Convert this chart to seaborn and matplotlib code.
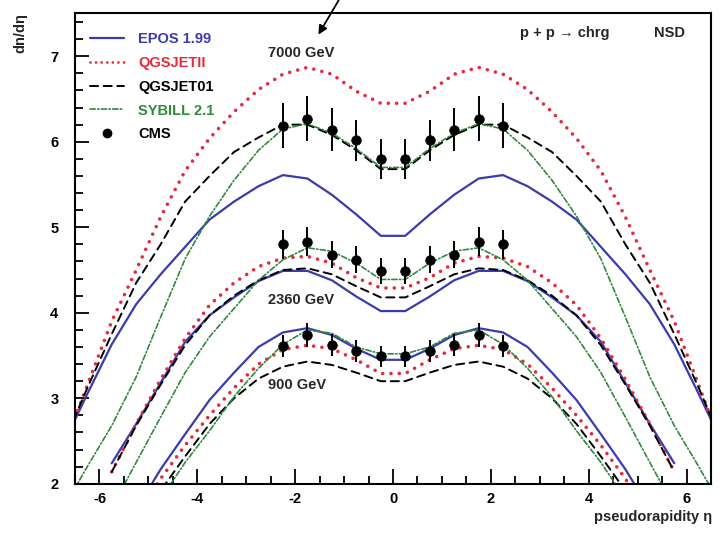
import numpy as np
import pandas as pd
import matplotlib
matplotlib.use("Agg")
import matplotlib.pyplot as plt
from matplotlib.lines import Line2D
from matplotlib.ticker import MultipleLocator
import seaborn as sns

nan = np.nan

# pseudorapidity grid of the model curves (bin centres)
eta = [-6.75, -6.25, -5.75, -5.25, -4.75, -4.25, -3.75, -3.25, -2.75, -2.25, -1.75, -1.25, -0.75, -0.25,
       0.25, 0.75, 1.25, 1.75, 2.25, 2.75, 3.25, 3.75, 4.25, 4.75, 5.25, 5.75, 6.25, 6.75]

# model predictions, 7000 GeV
epos_7000 = [2.45, 3.05, 3.63, 4.10, 4.45, 4.77, 5.09, 5.30, 5.48, 5.61, 5.57, 5.38, 5.15, 4.90,
             4.90, 5.15, 5.38, 5.57, 5.61, 5.48, 5.30, 5.09, 4.77, 4.45, 4.10, 3.63, 3.05, 2.45]
qgsjetii_7000 = [2.40, 3.15, 3.90, 4.50, 5.12, 5.66, 6.04, 6.35, 6.61, 6.79, 6.87, 6.79, 6.59, 6.45,
                 6.45, 6.59, 6.79, 6.87, 6.79, 6.61, 6.35, 6.04, 5.66, 5.12, 4.50, 3.90, 3.15, 2.40]
qgsjet01_7000 = [2.45, 3.12, 3.75, 4.35, 4.80, 5.30, 5.60, 5.88, 6.05, 6.20, 6.20, 6.08, 5.90, 5.68,
                 5.68, 5.90, 6.08, 6.20, 6.20, 6.05, 5.88, 5.60, 5.30, 4.80, 4.35, 3.75, 3.12, 2.45]
sybill_7000 = [1.70, 2.20, 2.68, 3.25, 3.95, 4.63, 5.13, 5.55, 5.90, 6.15, 6.21, 6.10, 5.92, 5.70,
               5.70, 5.92, 6.10, 6.21, 6.15, 5.90, 5.55, 5.13, 4.63, 3.95, 3.25, 2.68, 2.20, 1.70]

# model predictions, 2360 GeV
epos_2360 = [nan, nan, 2.24, 2.70, 3.18, 3.66, 3.97, 4.18, 4.37, 4.49, 4.49, 4.38, 4.19, 4.02,
             4.02, 4.19, 4.38, 4.49, 4.49, 4.37, 4.18, 3.97, 3.66, 3.18, 2.70, 2.24, nan, nan]
qgsjetii_2360 = [nan, nan, 2.14, 2.70, 3.22, 3.70, 4.09, 4.35, 4.54, 4.64, 4.66, 4.58, 4.41, 4.29,
                 4.29, 4.41, 4.58, 4.66, 4.64, 4.54, 4.35, 4.09, 3.70, 3.22, 2.70, 2.14, nan, nan]
qgsjet01_2360 = [nan, nan, 2.14, 2.68, 3.16, 3.62, 3.97, 4.20, 4.38, 4.50, 4.52, 4.45, 4.31, 4.18,
                 4.18, 4.31, 4.45, 4.52, 4.50, 4.38, 4.20, 3.97, 3.62, 3.16, 2.68, 2.14, nan, nan]
sybill_2360 = [nan, 1.20, 1.72, 2.25, 2.78, 3.30, 3.72, 4.05, 4.38, 4.62, 4.76, 4.72, 4.58, 4.39,
               4.39, 4.58, 4.72, 4.76, 4.62, 4.38, 4.05, 3.72, 3.30, 2.78, 2.25, 1.72, 1.20, nan]

# model predictions, 900 GeV
epos_900 = [nan, nan, 1.20, 1.70, 2.17, 2.58, 2.98, 3.30, 3.60, 3.77, 3.82, 3.74, 3.58, 3.45,
            3.45, 3.58, 3.74, 3.82, 3.77, 3.60, 3.30, 2.98, 2.58, 2.17, 1.70, 1.20, nan, nan]
qgsjetii_900 = [nan, nan, 1.10, 1.60, 2.06, 2.45, 2.80, 3.12, 3.40, 3.57, 3.62, 3.58, 3.45, 3.29,
                3.29, 3.45, 3.58, 3.62, 3.57, 3.40, 3.12, 2.80, 2.45, 2.06, 1.60, 1.10, nan, nan]
qgsjet01_900 = [nan, nan, 1.05, 1.50, 1.92, 2.32, 2.70, 3.00, 3.23, 3.37, 3.43, 3.39, 3.30, 3.20,
                3.20, 3.30, 3.39, 3.43, 3.37, 3.23, 3.00, 2.70, 2.32, 1.92, 1.50, 1.05, nan, nan]
sybill_900 = [nan, nan, 0.80, 1.30, 1.82, 2.25, 2.62, 3.02, 3.35, 3.63, 3.80, 3.76, 3.60, 3.52,
              3.52, 3.60, 3.76, 3.80, 3.63, 3.35, 3.02, 2.62, 2.25, 1.82, 1.30, 0.80, nan, nan]

# CMS NSD measurements
cms_eta = [-2.25, -1.75, -1.25, -0.75, -0.25, 0.25, 0.75, 1.25, 1.75, 2.25]
cms_7000 = [6.19, 6.27, 6.14, 6.02, 5.80, 5.80, 6.02, 6.14, 6.27, 6.19]
cms_7000_err = [0.26, 0.26, 0.25, 0.24, 0.23, 0.23, 0.24, 0.25, 0.26, 0.26]
cms_2360 = [4.80, 4.83, 4.68, 4.62, 4.49, 4.49, 4.62, 4.68, 4.83, 4.80]
cms_2360_err = [0.17, 0.17, 0.16, 0.16, 0.15, 0.15, 0.16, 0.16, 0.17, 0.17]
cms_900 = [3.61, 3.74, 3.62, 3.55, 3.49, 3.49, 3.55, 3.62, 3.74, 3.61]
cms_900_err = [0.13, 0.14, 0.13, 0.13, 0.12, 0.12, 0.13, 0.13, 0.14, 0.13]

models = ["EPOS 1.99", "QGSJETII", "QGSJET01", "SYBILL 2.1"]
energies = ["7000 GeV", "2360 GeV", "900 GeV"]
curves = {
    ("EPOS 1.99", "7000 GeV"): epos_7000, ("QGSJETII", "7000 GeV"): qgsjetii_7000,
    ("QGSJET01", "7000 GeV"): qgsjet01_7000, ("SYBILL 2.1", "7000 GeV"): sybill_7000,
    ("EPOS 1.99", "2360 GeV"): epos_2360, ("QGSJETII", "2360 GeV"): qgsjetii_2360,
    ("QGSJET01", "2360 GeV"): qgsjet01_2360, ("SYBILL 2.1", "2360 GeV"): sybill_2360,
    ("EPOS 1.99", "900 GeV"): epos_900, ("QGSJETII", "900 GeV"): qgsjetii_900,
    ("QGSJET01", "900 GeV"): qgsjet01_900, ("SYBILL 2.1", "900 GeV"): sybill_900,
}
rows = []
for (model, energy), vals in curves.items():
    for x, y in zip(eta, vals):
        rows.append({"model": model, "energy": energy, "eta": x, "dndeta": y})
df = pd.DataFrame(rows).dropna()

BLUE = "#3b3bb0"
RED = "#e62a3c"
GREEN = "#2f8a3c"
styles = {
    "EPOS 1.99": dict(color=BLUE, lw=1.6, ls="-"),
    "QGSJETII": dict(color=RED, lw=2.6, ls=(0, (0.01, 2.3))),
    "QGSJET01": dict(color="black", lw=1.4, ls=(0, (4.2, 2.8))),
    "SYBILL 2.1": dict(color=GREEN, lw=1.2, ls=(0, (3.2, 1.4, 0.8, 1.4))),
}

sns.set_theme(style="ticks")
plt.rcParams["font.family"] = ["Liberation Sans", "DejaVu Sans"]
plt.rcParams["font.weight"] = "bold"
plt.rcParams["axes.unicode_minus"] = False
plt.rcParams["lines.dash_capstyle"] = "round"
plt.rcParams["lines.solid_capstyle"] = "round"

fig = plt.figure(figsize=(7.2, 5.33), dpi=100)
fig.patch.set_facecolor("white")
ax = fig.add_axes([0.1042, 0.0923, 0.8833, 0.8824])

for energy in energies:
    for model in models:
        sub = df[(df.model == model) & (df.energy == energy)]
        st = styles[model]
        sns.lineplot(data=sub, x="eta", y="dndeta", ax=ax, color=st["color"], linewidth=st["lw"],
                     linestyle=st["ls"], estimator=None, sort=False, legend=False,
                     dash_capstyle="round")

for vals, errs in [(cms_7000, cms_7000_err), (cms_2360, cms_2360_err), (cms_900, cms_900_err)]:
    ax.errorbar(cms_eta, vals, yerr=errs, fmt="none", ecolor="black", elinewidth=1.4, capsize=0, zorder=4)
    sns.scatterplot(x=cms_eta, y=vals, ax=ax, color="black", s=48, edgecolor="black", linewidth=0.5,
                    zorder=5, legend=False)

ax.set_xlim(-6.5, 6.5)
ax.set_ylim(2, 7.5)
ax.xaxis.set_major_locator(MultipleLocator(2))
ax.xaxis.set_minor_locator(MultipleLocator(0.5))
ax.yaxis.set_major_locator(MultipleLocator(1))
ax.yaxis.set_minor_locator(MultipleLocator(0.2))
ax.tick_params(which="both", direction="in", top=False, right=False, width=1.3, colors="black")
ax.tick_params(axis="x", which="major", length=11, pad=6, labelsize=10.5)
ax.tick_params(axis="x", which="minor", length=6)
ax.tick_params(axis="y", which="major", length=10, pad=12, labelsize=10.5)
ax.tick_params(axis="y", which="minor", length=5.5)
for lab in ax.get_xticklabels() + ax.get_yticklabels():
    lab.set_fontweight("bold")
for sp in ax.spines.values():
    sp.set_visible(True)
    sp.set_linewidth(1.5)
    sp.set_color("black")
ax.set_xlabel("")
ax.set_ylabel("")

# energy labels and process annotation
ax.text(-2.55, 7.04, "7000 GeV", fontsize=10.5, fontweight="bold", va="center", ha="left")
ax.text(-2.55, 4.15, "2360 GeV", fontsize=10.5, fontweight="bold", va="center", ha="left")
ax.text(-2.55, 3.16, "900 GeV", fontsize=10.5, fontweight="bold", va="center", ha="left")
ax.text(2.6, 7.27, "p + p \u2192 chrg", fontsize=10.5, fontweight="bold", va="center", ha="left")
ax.text(5.33, 7.27, "NSD", fontsize=10.5, fontweight="bold", va="center", ha="left")

fig.text(712 / 720, 1 - 517 / 533, "pseudorapidity \u03b7", fontsize=10.5, fontweight="bold",
         ha="right", va="center")
fig.text(20 / 720, 1 - 33 / 533, "dn/d\u03b7", fontsize=10.5, fontweight="bold", rotation=90,
         ha="center", va="center")

ax.annotate("", xy=(317, 533 - 37), xycoords="figure pixels", xytext=(340, 535),
            textcoords="figure pixels", annotation_clip=False,
            arrowprops=dict(arrowstyle="-|>", color="black", lw=1.3, mutation_scale=13))

handles = [
    Line2D([], [], color=BLUE, lw=1.6, ls="-"),
    Line2D([], [], color=RED, lw=2.0, ls=(0, (0.01, 2.0)), dash_capstyle="round"),
    Line2D([], [], color="black", lw=1.4, ls=(0, (4.2, 2.8))),
    Line2D([], [], color=GREEN, lw=1.2, ls=(0, (3.2, 1.4, 0.8, 1.4))),
    Line2D([], [], color="black", marker="o", ls="none", ms=6),
]
labels = ["EPOS 1.99", "QGSJETII", "QGSJET01", "SYBILL 2.1", "CMS"]
leg = ax.legend(handles, labels, loc="upper left", bbox_to_anchor=(0.024, 0.961), frameon=False,
                borderpad=0, borderaxespad=0, handlelength=2.3, handletextpad=1.0,
                labelspacing=0.68, prop={"size": 10.5, "weight": "bold"})
for txt, col in zip(leg.get_texts(), [BLUE, RED, "black", GREEN, "black"]):
    txt.set_color(col)

fig.savefig("out.png", dpi=100, facecolor="white")
